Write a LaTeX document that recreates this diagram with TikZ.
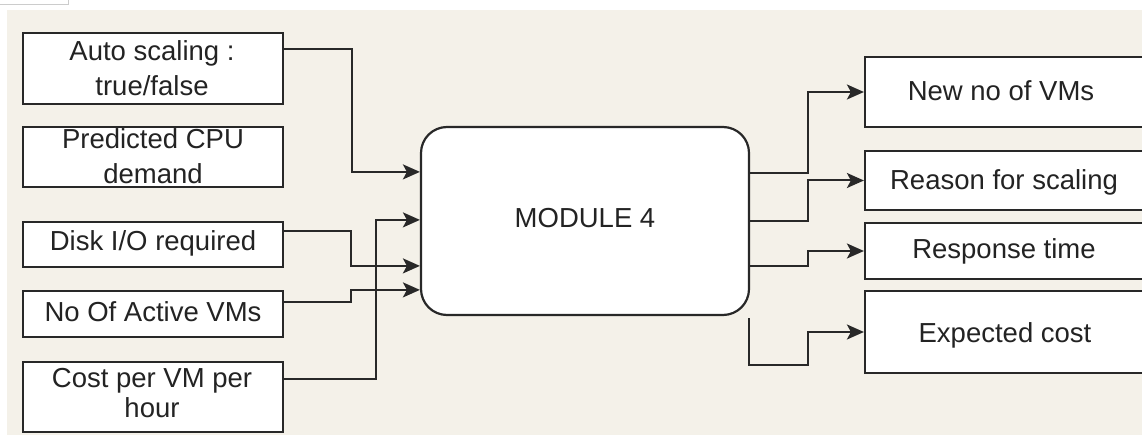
\documentclass[tikz,border=0pt]{standalone}
\usepackage{fontspec}
\setmainfont{Liberation Sans}
\usetikzlibrary{arrows.meta,calc}
\definecolor{bg}{RGB}{244,241,233}
\definecolor{ink}{RGB}{40,40,40}
\definecolor{txt}{RGB}{35,35,35}
\tikzset{
  box/.style={draw=ink, line width=2.2pt, fill=white, inner sep=0pt},
  lbl/.style={inner sep=0pt, text=txt, font=\fontsize{27.5}{35}\selectfont, align=center},
  conn/.style={draw=ink, line width=2pt},
  arr/.style={conn, -{Stealth[length=17pt,width=15pt,inset=4pt]}}
}
\begin{document}
\begin{tikzpicture}[x=1pt,y=-1pt]
\useasboundingbox (0,0) rectangle (1142,435);
\fill[white] (0,0) rectangle (1142,435);
\fill[bg] (7,10) rectangle (1142,435);
\draw[black!20, line width=1pt] (0,5) -- (68,5) -- (68,0);
% left boxes
\node[box, minimum width=260pt, minimum height=71pt] (auto) at (153,68.5) {};
\node[box, minimum width=260pt, minimum height=60pt] (cpu) at (153,157) {};
\node[box, minimum width=260pt, minimum height=45pt] (disk) at (153,244.5) {};
\node[box, minimum width=260pt, minimum height=46pt] (active) at (153,314) {};
\node[box, minimum width=260pt, minimum height=70pt] (cost) at (153,397) {};
\node[lbl, anchor=north] (autot) at (152,40.5) {Auto scaling :\\true/false};
\node[lbl, anchor=north] (cput) at (153,128.5) {Predicted CPU\\demand};
\node[lbl, anchor=base] (diskt) at (153,251) {Disk I/O required};
\node[lbl, anchor=base] (activet) at (153,322) {No Of Active VMs};
\node[lbl, anchor=north, font=\fontsize{27.5}{30}\selectfont] (costt) at (152,368.5) {Cost per VM per\\hour};
% module
\node[box, rounded corners=26pt, minimum width=328pt, minimum height=188pt] (module) at (585,221) {};
\node[lbl, anchor=base] (modt) at (585,228) {MODULE 4};
% right boxes
\node[box, minimum width=278pt, minimum height=70pt] (newvm) at (1004,92) {};
\node[box, minimum width=278pt, minimum height=59pt] (reason) at (1004,180.5) {};
\node[box, minimum width=278pt, minimum height=56pt] (resp) at (1004,251) {};
\node[box, minimum width=278pt, minimum height=82pt] (exp) at (1004,332) {};
\node[lbl, anchor=base] (newvmt) at (1001,101) {New no of VMs};
\node[lbl, anchor=base] (reasont) at (1004,190) {Reason for scaling};
\node[lbl, anchor=base] (respt) at (1004,259) {Response time};
\node[lbl, anchor=base] (expt) at (1005,342) {Expected cost};
% input connectors
\draw[arr] ([yshift=-17pt]auto.north east) -- ++(68,0) |- ([yshift=-46pt]module.north west);
\draw[arr] ([yshift=-18pt]cost.north east) -- ++(92,0) |- ([yshift=-94pt]module.north west);
\draw[arr] ([yshift=-10pt]disk.north east) -- ++(67,0) |- ([yshift=-140pt]module.north west);
\draw[arr] ([yshift=-12pt]active.north east) -- ++(67,0) |- ([yshift=-164pt]module.north west);
% output connectors
\draw[arr] ([yshift=-47pt]module.north east) -- ++(58,0) |- (newvm.west);
\draw[arr] ([yshift=-95pt]module.north east) -- ++(58,0) |- (reason.west);
\draw[arr] ([yshift=-140pt]module.north east) -- ++(58,0) |- (resp.west);
\draw[arr] ([xshift=-1pt,yshift=-2pt]module.south east) -- ++(0,47) -- ++(59,0) |- (exp.west);
\end{tikzpicture}
\end{document}
